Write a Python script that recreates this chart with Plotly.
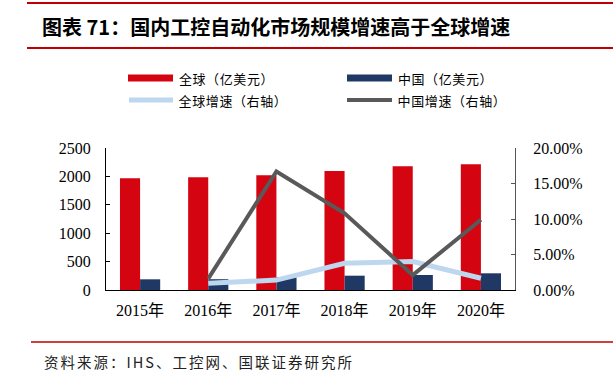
import plotly.graph_objects as go

years = ["2015年", "2016年", "2017年", "2018年", "2019年", "2020年"]
global_size = [1966, 1984, 2019, 2095, 2177, 2213]
china_size = [188, 190, 224, 252, 264, 294]
growth_years = ["2016年", "2017年", "2018年", "2019年", "2020年"]
global_growth = [0.0094, 0.014, 0.0376, 0.040, 0.0165]
china_growth = [0.016, 0.167, 0.108, 0.021, 0.099]

RED = "#D40511"
NAVY = "#1F3864"
GRAY = "#595959"
LBLUE = "#BDD7EE"

L, R, T, B = 106, 515, 148, 290
W, H = 613, 391
PW, PH = R - L, B - T


def px(x):
    return (x - L) / PW


def py(y):
    return (B - y) / PH


fig = go.Figure()
fig.add_trace(go.Bar(x=years, y=global_size, name="全球（亿美元）", marker_color=RED,
                     marker_line_width=0))
fig.add_trace(go.Bar(x=years, y=china_size, name="中国（亿美元）", marker_color=NAVY,
                     marker_line_width=0))
fig.add_trace(go.Scatter(x=growth_years, y=global_growth, name="全球增速（右轴）", yaxis="y2",
                         mode="lines", line=dict(color=LBLUE, width=5)))
fig.add_trace(go.Scatter(x=growth_years, y=china_growth, name="中国增速（右轴）", yaxis="y2",
                         mode="lines", line=dict(color=GRAY, width=4)))

tickfont = dict(family="Liberation Serif, Times New Roman, Noto Sans CJK SC", size=16, color="#000")

fig.update_layout(
    width=W, height=H,
    margin=dict(l=L, r=W - R, t=T, b=H - B, pad=0),
    paper_bgcolor="white", plot_bgcolor="white",
    barmode="group", bargap=0.41, bargroupgap=0,
    showlegend=False,
    xaxis=dict(showline=True, linecolor="#000", linewidth=1, ticks="outside", ticklen=6,
               tickcolor="rgba(0,0,0,0)", tickfont=tickfont, showgrid=False),
    yaxis=dict(range=[0, 2500], dtick=500, showline=True, linecolor="#000", linewidth=1,
               ticks="inside", ticklen=4, tickcolor="#000", tickfont=tickfont, showgrid=False,
               zeroline=False, ticklabelstandoff=11),
    yaxis2=dict(range=[0, 0.2], dtick=0.05, tickformat=".2%", overlaying="y", side="right",
                showline=True, linecolor="#555", linewidth=1, ticks="inside", ticklen=4,
                tickcolor="#555", tickfont=tickfont, showgrid=False, zeroline=False,
                ticklabelstandoff=14),
)

shapes = []
# top red lines
shapes.append(dict(type="line", xref="paper", yref="paper", x0=px(27), x1=px(613), y0=py(3), y1=py(3),
                   line=dict(color="#C00000", width=2)))
shapes.append(dict(type="line", xref="paper", yref="paper", x0=px(27), x1=px(613), y0=py(48), y1=py(48),
                   line=dict(color="#C00000", width=2)))
shapes.append(dict(type="line", xref="paper", yref="paper", x0=px(31), x1=px(613), y0=py(342), y1=py(342),
                   line=dict(color="#C00000", width=1.5)))
# legend keys
shapes.append(dict(type="rect", xref="paper", yref="paper", x0=px(128), x1=px(173), y0=py(81.5), y1=py(74.5),
                   fillcolor=RED, line_width=0))
shapes.append(dict(type="rect", xref="paper", yref="paper", x0=px(347), x1=px(392), y0=py(81.5), y1=py(74.5),
                   fillcolor=NAVY, line_width=0))
shapes.append(dict(type="line", xref="paper", yref="paper", x0=px(129), x1=px(173), y0=py(100), y1=py(100),
                   line=dict(color=LBLUE, width=5)))
shapes.append(dict(type="line", xref="paper", yref="paper", x0=px(347), x1=px(392), y0=py(100), y1=py(100),
                   line=dict(color=GRAY, width=4)))
fig.update_layout(shapes=shapes)

cjk = "Noto Sans CJK SC"
ann = []
ann.append(dict(text="<b>图表 71：国内工控自动化市场规模增速高于全球增速</b>", x=px(40), y=py(26),
                xref="paper", yref="paper", xanchor="left", yanchor="middle", showarrow=False,
                font=dict(family=cjk, size=20, color="#000")))
for text, x, y in [("全球（亿美元）", 179, 78), ("中国（亿美元）", 398, 78),
                   ("全球增速（右轴）", 179, 100), ("中国增速（右轴）", 398, 100)]:
    ann.append(dict(text=text, x=px(x), y=py(y), xref="paper", yref="paper", xanchor="left",
                    yanchor="middle", showarrow=False, font=dict(family=cjk, size=13, color="#000")))
ann.append(dict(text="资料来源：IHS、工控网、国联证券研究所", x=px(62), y=py(361), xref="paper", yref="paper",
                xanchor="left", yanchor="middle", showarrow=False,
                font=dict(family=cjk, size=14.5, color="#222")))
fig.update_layout(annotations=ann)

post = """
document.body.style.margin='0';document.body.style.padding='0';
document.querySelectorAll('.annotation-text').forEach(function(t){
  if (t.textContent.indexOf('资料来源') === 0) { t.style.letterSpacing = '2px'; }
  else if (t.textContent.indexOf('（') > 0) { t.style.letterSpacing = '0.6px'; }
});
"""
fig.write_html("out.html", post_script=post, config={"displayModeBar": False})
